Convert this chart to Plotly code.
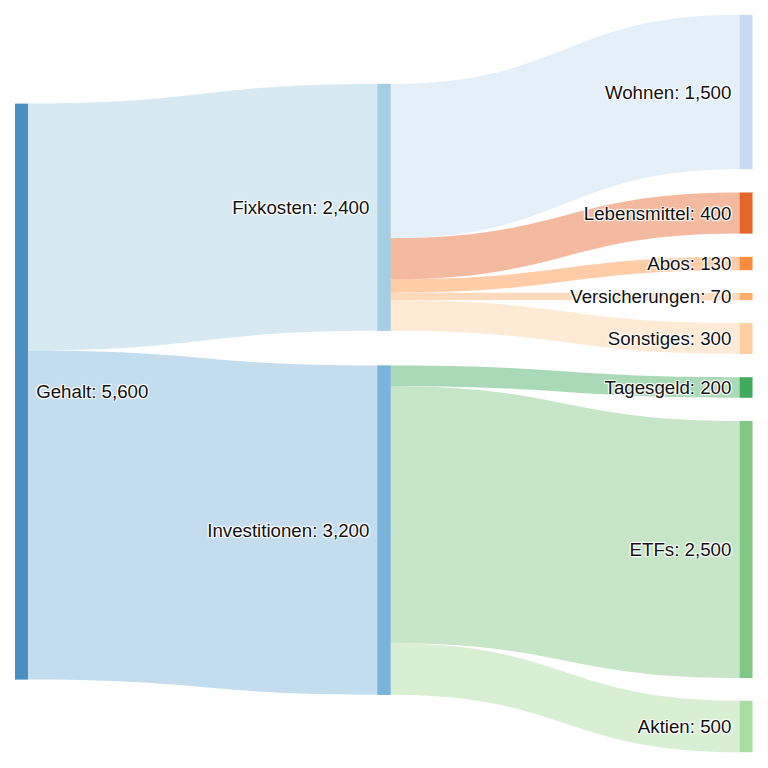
import plotly.graph_objects as go

node_names = ["Gehalt", "Fixkosten", "Investitionen", "Wohnen", "Lebensmittel", "Abos",
              "Versicherungen", "Sonstiges", "Tagesgeld", "ETFs", "Aktien"]
node_colors = ["#4a8fc4", "#a6cee3", "#7ab4db", "#c6dbef", "#e6652a", "#fd8d3c",
               "#fdae6b", "#fdd0a2", "#41ab5d", "#80c883", "#a8dca0"]
node_x = [0.0088, 0.5007, 0.5007, 0.9919, 0.9919, 0.9919, 0.9919, 0.9919, 0.9919, 0.9919, 0.9919]
node_y = [0.511, 0.261, 0.699, 0.1045, 0.2687, 0.3372, 0.382, 0.439, 0.5054, 0.7252, 0.9654]

link_source = [0, 0, 1, 1, 1, 1, 1, 2, 2, 2]
link_target = [1, 2, 3, 4, 5, 6, 7, 8, 9, 10]
link_value = [2400, 3200, 1500, 400, 130, 70, 300, 200, 2500, 500]
link_colors = ["rgba(166,206,227,0.45)", "rgba(122,180,219,0.45)",
               "rgba(198,219,239,0.45)", "rgba(230,101,42,0.45)",
               "rgba(253,141,60,0.45)", "rgba(253,174,107,0.45)",
               "rgba(253,208,162,0.45)", "rgba(65,171,93,0.45)",
               "rgba(128,200,131,0.45)", "rgba(168,220,160,0.45)"]

# node totals
in_tot = {}
for t, v in zip(link_target, link_value):
    in_tot[t] = in_tot.get(t, 0) + v
out_tot = {}
for s, v in zip(link_source, link_value):
    out_tot[s] = out_tot.get(s, 0) + v
NB = "\u00a0"
labels = []
for i, n in enumerate(node_names):
    v = max(in_tot.get(i, 0), out_tot.get(i, 0))
    txt = f"{n}: {v:,}"
    labels.append(NB + txt if i == 0 else txt + NB)

FONT = dict(family="Liberation Sans, Arial, sans-serif", size=18.7, color="#111111")


def stage(link_idx, show_label, pad):
    """Build one Sankey stage from a subset of the links (same plot area)."""
    used = []
    for k in link_idx:
        for n in (link_source[k], link_target[k]):
            if n not in used:
                used.append(n)
    pos = {n: j for j, n in enumerate(used)}
    return go.Sankey(
        arrangement="fixed",
        node=dict(label=[labels[n] if show_label(n) else "" for n in used],
                  color=[node_colors[n] for n in used],
                  x=[node_x[n] for n in used], y=[node_y[n] for n in used],
                  pad=pad, thickness=13, line=dict(width=0)),
        link=dict(source=[pos[link_source[k]] for k in link_idx],
                  target=[pos[link_target[k]] for k in link_idx],
                  value=[link_value[k] for k in link_idx],
                  color=[link_colors[k] for k in link_idx]),
        textfont=FONT,
    )


first = [k for k, s in enumerate(link_source) if s == 0]
second = [k for k, s in enumerate(link_source) if s != 0]
mid = set(link_target[k] for k in first)

# stage 1: Gehalt -> middle column (middle labels drawn here, on the left side)
# pad chosen so both stages share the same value-to-pixel scale
fig = go.Figure()
fig.add_trace(stage(first, lambda n: True, pad=161))
fig.add_trace(stage(second, lambda n: n not in mid, pad=23))
fig.update_layout(width=768, height=768, margin=dict(l=7, r=24, t=7, b=24),
                  paper_bgcolor="white")
fig.write_html("out.html")
